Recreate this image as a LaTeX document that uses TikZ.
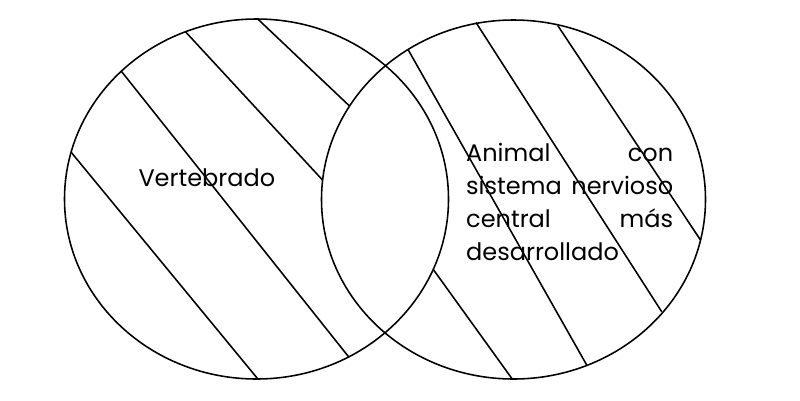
\documentclass[tikz,border=0pt]{standalone}
\usepackage{fontspec}
\setmainfont{Poppins}
\begin{document}
\begin{tikzpicture}[x=1pt,y=-1pt]
                \useasboundingbox [fill=white] (0,0) rectangle (800,400);
                {\fontsize{24}{32.8}\selectfont

                % Drawing ellipse Vertebrado
                \draw [line width=0.055cm] (256.5,199) ellipse [x radius=192, y radius=180];%

                % Drawing ellipse Animal
                \draw [line width=0.055cm] (513.5,199.5) ellipse [x radius=192, y radius=179.5];%

                % Drawing hatch lines in left ellipse
                \draw [line width=0.055cm] (70.7,151.7) -- (257.3,378.3);%
                \draw [line width=0.055cm] (121.7,71.7) -- (349.0,357.3);%
                \draw [line width=0.055cm] (185.7,32.0) -- (322.5,180.0);%
                \draw [line width=0.055cm] (258.3,19.5) -- (349.5,106.0);%

                % Drawing hatch lines in right ellipse
                \draw [line width=0.055cm] (408.3,50.0) -- (586.7,365.0);%
                \draw [line width=0.055cm] (476.0,22.5) -- (661.7,311.7);%
                \draw [line width=0.055cm] (557.7,25.5) -- (700.5,240.0);%
                \draw [line width=0.055cm] (433.3,269.5) -- (511.7,378.3);%

                % Marking label Vertebrado
                \draw (138.3,186.7) node [anchor=base west, inner sep=0pt] (vertebrado) {Vertebrado};%

                % Marking label Animal
                \draw (466,161.7) node [anchor=base west, inner sep=0pt, text width=207pt, align=left] (animal)
                  {Animal\hfill con\\ sistema\hfill nervioso\\ central\hfill más\\ desarrollado};%
                }
            \end{tikzpicture}
\end{document}
